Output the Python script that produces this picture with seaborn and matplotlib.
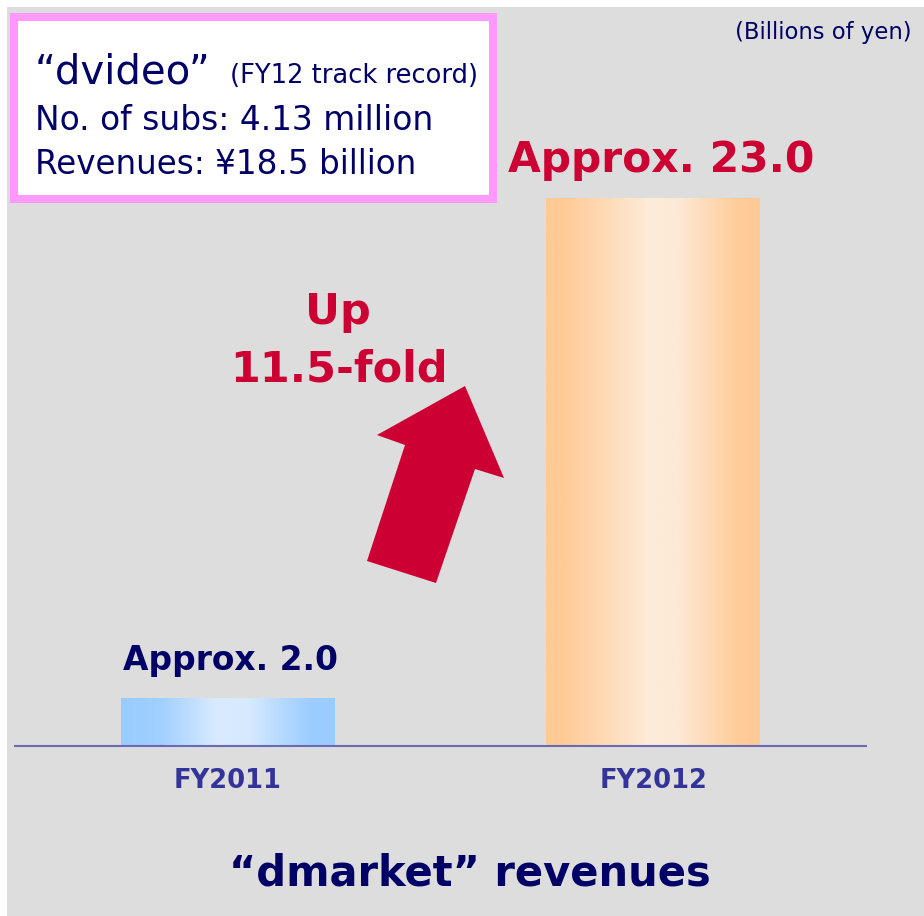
import numpy as np
import matplotlib
matplotlib.use("Agg")
import matplotlib.pyplot as plt
from matplotlib.colors import LinearSegmentedColormap
from matplotlib.patches import Rectangle, Polygon
import seaborn as sns
import pandas as pd

# ---- data ----
categories = ["FY2011", "FY2012"]
revenues = [2.0, 23.0]
value_labels = ["Approx. 2.0", "Approx. 23.0"]
unit_label = "(Billions of yen)"
title = "\u201cdmarket\u201d revenues"
growth_lines = ["Up", "11.5-fold"]

sns.set_theme(style="white")
plt.rcParams['font.family'] = ['DejaVu Sans']

W, H = 924, 916
fig = plt.figure(figsize=(W / 100, H / 100), dpi=100, facecolor="white")

def fx(px):
    return px / W

def fy(py):
    return 1 - py / H

# gray background panel
fig.patches.append(Rectangle((fx(7), 0), 1 - fx(7), fy(7), transform=fig.transFigure,
                             facecolor="#dddddd", edgecolor="none", zorder=-5))

ax = fig.add_axes([fx(15), fy(746), fx(866) - fx(15), fy(32) - fy(746)])
ax.set_facecolor("none")
ax.set_zorder(1)

df = pd.DataFrame({"year": categories, "rev": revenues})
sns.barplot(data=df, x="year", y="rev", width=0.502, ax=ax,
            palette=["#99ccff", "#ffca96"], hue="year", legend=False,
            saturation=1, edgecolor="none")

grad_specs = [
    [(0.0, "#99ccff"), (0.18, "#a0cfff"), (0.45, "#d9ebff"), (0.6, "#d6e9ff"), (0.88, "#9dcdff"), (1.0, "#99ccff")],
    [(0.0, "#ffca96"), (0.08, "#ffca96"), (0.48, "#fdebd9"), (0.62, "#fde9d5"), (0.9, "#ffcc99"), (1.0, "#ffca96")],
]
xs = np.linspace(0, 1, 256).reshape(1, -1)
for patch, spec in zip(ax.patches, grad_specs):
    cmap = LinearSegmentedColormap.from_list("g", spec)
    x0 = patch.get_x(); w = patch.get_width(); h = patch.get_height()
    ax.imshow(xs, cmap=cmap, aspect="auto", extent=[x0, x0 + w, 0, h],
              zorder=patch.get_zorder() + 0.1, interpolation="bilinear")
ax.set_xlim(-0.5, 1.5)
ax.set_ylim(0, 30)

# value labels
label_colors = ["#000066", "#cc0033"]
label_sizes = [23.7, 30.5]
label_dx = [2, 6]
for i, (v, lab) in enumerate(zip(revenues, value_labels)):
    ax.annotate(lab, (i, v), xytext=(label_dx[i], 27.5), textcoords="offset points",
                ha="center", va="center", fontsize=label_sizes[i],
                fontweight="bold", color=label_colors[i])

for s in ["top", "right", "left"]:
    ax.spines[s].set_visible(False)
ax.spines["bottom"].set_color("#6b6bb5")
ax.spines["bottom"].set_linewidth(1.5)
ax.set_yticks([])
ax.set_xlabel("")
ax.set_ylabel("")
ax.tick_params(axis="x", length=0, pad=16)
for t in ax.get_xticklabels():
    t.set_fontsize(18.5)
    t.set_fontweight("bold")
    t.set_color("#333399")

# unit label
fig.text(fx(912), fy(33), unit_label, ha="right", va="center", fontsize=16.4, color="#000066")

# title
fig.text(fx(470), fy(873), title, ha="center", va="center", fontsize=30,
         fontweight="bold", color="#000066")

# growth text
fig.text(fx(338), fy(312), growth_lines[0], ha="center", va="center", fontsize=31,
         fontweight="bold", color="#cc0033")
fig.text(fx(339), fy(370), growth_lines[1], ha="center", va="center", fontsize=31,
         fontweight="bold", color="#cc0033")

# arrow
arrow_pts = [(367, 561), (405, 445), (377, 435), (465, 386), (504, 478), (475, 469), (436, 583)]
fig.patches.append(Polygon([(fx(x), fy(y)) for x, y in arrow_pts], closed=True,
                           transform=fig.transFigure, facecolor="#cc0033",
                           edgecolor="none", zorder=3))

# info box
fig.patches.append(Rectangle((fx(14), fy(199)), fx(493) - fx(14), fy(17) - fy(199),
                             transform=fig.transFigure, facecolor="white",
                             edgecolor="#ff99ff", linewidth=5.8, zorder=2))
fig.text(fx(35), fy(83), "\u201cdvideo\u201d", ha="left", va="baseline", fontsize=29,
         color="#000066", zorder=4)
fig.text(fx(230), fy(83), "(FY12 track record)", ha="left", va="baseline", fontsize=18.5,
         color="#000066", zorder=4)
fig.text(fx(35), fy(130), "No. of subs: 4.13 million", ha="left", va="baseline", fontsize=23.7,
         color="#000066", zorder=4)
fig.text(fx(35), fy(174), "Revenues: \u00a518.5 billion", ha="left", va="baseline", fontsize=23.5,
         color="#000066", zorder=4)

fig.savefig("out.png", dpi=100, facecolor="white")
